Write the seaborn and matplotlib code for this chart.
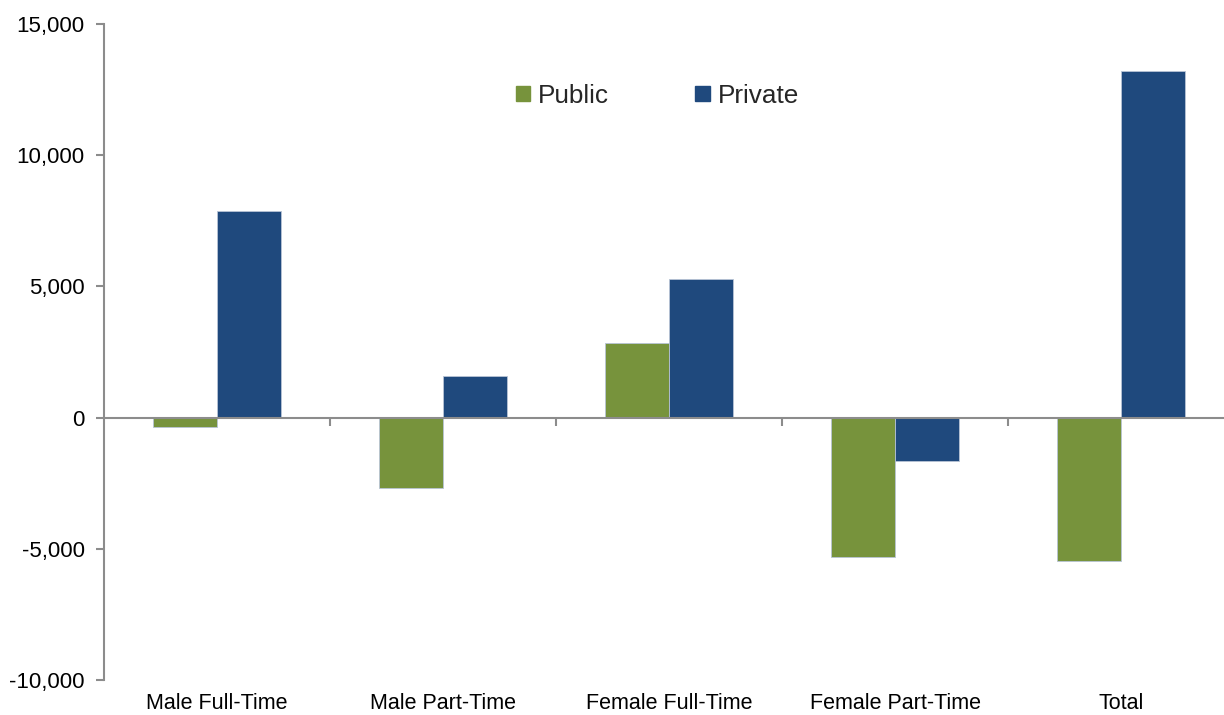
import matplotlib.pyplot as plt
import matplotlib.ticker as mticker
import seaborn as sns
import pandas as pd

# Values
categories = ['Male Full-Time', 'Male Part-Time', 'Female Full-Time', 'Female Part-Time', 'Total']
public = [-370, -2700, 2860, -5330, -5450]
private = [7860, 1600, 5300, -1640, 13190]
sectors = ['Public', 'Private']
colors = ['#77933C', '#1F497D']

df = pd.DataFrame({
    'category': categories * 2,
    'value': public + private,
    'sector': ['Public'] * len(categories) + ['Private'] * len(categories),
})

sns.set_style('white')
plt.rcParams['font.family'] = ['Liberation Sans', 'DejaVu Sans']

fig = plt.figure(figsize=(12.24, 7.15), dpi=100)
ax = fig.add_axes([104 / 1224, 35 / 715, 1130 / 1224, 656 / 715])

sns.barplot(data=df, x='category', y='value', hue='sector', hue_order=sectors,
            palette=colors, width=0.57, gap=0, saturation=1,
            edgecolor='#b8c4d6', linewidth=0.6, ax=ax)

ax.set_ylim(-10000, 15000)
ax.set_xlim(-0.5, len(categories) - 0.5)
ax.set_yticks([-10000, -5000, 0, 5000, 10000, 15000])
ax.yaxis.set_major_formatter(mticker.FuncFormatter(lambda v, p: f'{v:,.0f}'))
ax.set_xlabel('')
ax.set_ylabel('')

# zero line with category separators
ax.axhline(0, color='#8c8c8c', lw=1.5, zorder=1)
bounds = [i + 0.5 for i in range(len(categories) - 1)]
ax.plot(bounds, [0] * len(bounds), ls='none', marker=3, ms=6, mew=1.5, color='#8c8c8c')

for s in ['top', 'right', 'bottom']:
    ax.spines[s].set_visible(False)
ax.spines['left'].set_color('#8c8c8c')
ax.spines['left'].set_linewidth(1.5)
ax.tick_params(axis='y', left=True, length=6, width=1.5, color='#8c8c8c',
               labelsize=16, labelcolor='black', pad=8)
ax.tick_params(axis='x', bottom=False, labelsize=15.5, labelcolor='black', pad=6)

ax.get_legend().remove()
handles = [plt.Rectangle((0, 0), 1, 1, color=c) for c in colors]
fig.legend(handles, sectors, loc='center', bbox_to_anchor=(0.537, 0.866),
           ncol=2, frameon=False, fontsize=18.8, handlelength=0.55, handleheight=0.55,
           handletextpad=0.3, columnspacing=3.3)

plt.savefig('out.png', dpi=100)
